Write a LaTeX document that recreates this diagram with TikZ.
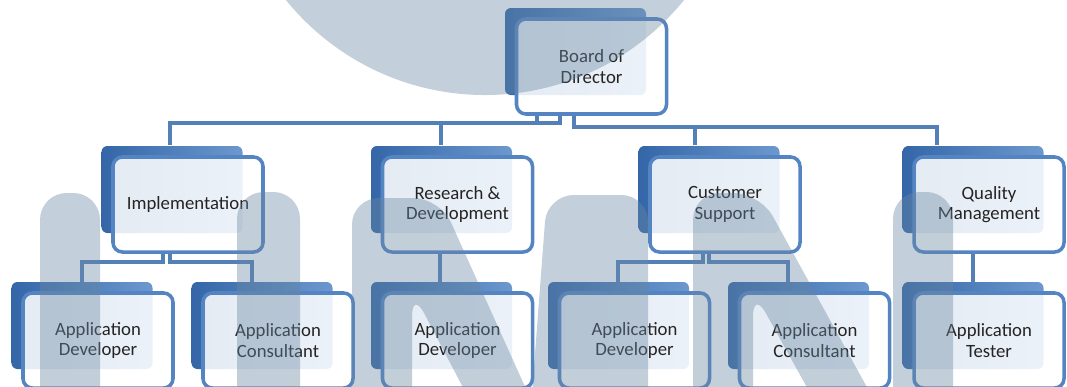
\documentclass[tikz,border=0pt]{standalone}
\usepackage{fontspec}
\setmainfont{Carlito}
\definecolor{boxline}{RGB}{84,132,194}
\definecolor{boxdark}{RGB}{52,102,168}
\definecolor{boxlight}{RGB}{108,152,206}
\definecolor{linkblue}{RGB}{84,128,184}
\definecolor{labeltext}{RGB}{36,36,36}
\definecolor{umnmark}{RGB}{105,136,162}
\tikzset{
    backbox/.style={rounded corners=5pt, inner sep=0pt, minimum width=4.23cm, minimum height=2.61cm,
        left color=boxdark, right color=boxlight},
    frontbox/.style={draw=boxline, line width=3pt, rounded corners=8pt, fill=white, fill opacity=0.87,
        text opacity=1, text=labeltext, inner sep=0pt, minimum width=4.5cm, minimum height=2.85cm,
        align=center, font=\fontsize{16}{17.5}\selectfont},
    link/.style={draw=linkblue, line width=3.5pt},
    umn/.style={fill=umnmark, fill opacity=0.4}
}
\newcommand{\orgnode}[4]{
    \node[backbox] (#1b) at (#2-16,#3-15) {};
    \node[frontbox] (#1) at (#2,#3) {#4};
}
\begin{document}
\begin{tikzpicture}[x=0.03cm,y=-0.03cm]
    \useasboundingbox (0,0) rectangle (1067,386);
    \clip (0,0) rectangle (1067,386);
    % connectors first, boxes on top
    \draw[link] (537,113) |- (170,123) -- (170,145);
    \draw[link] (560,113) |- (441,123) -- (441,145);
    \draw[link] (574,113) |- (695,127) -- (695,145);
    \draw[link] (574,113) |- (937,127) -- (937,145);
    \orgnode{bod}{591.5}{66.5}{Board of\\Director}
    \orgnode{impl}{188}{204.5}{Implementation}
    \orgnode{rnd}{457.5}{204.5}{Research \&\\Development}
    \orgnode{cs}{725}{204.5}{Customer\\Support}
    \orgnode{qm}{989}{204.5}{Quality\\Management}
    \draw[link] (impl.south -| 163,0) |- (82,262) -- (82,282);
    \draw[link] (impl.south -| 170,0) |- (252,262) -- (252,282);
    \draw[link] (rnd.south -| 440,0) -- (440,282);
    \draw[link] (cs.south -| 703,0) |- (618,262) -- (618,282);
    \draw[link] (cs.south -| 709,0) |- (788,262) -- (788,282);
    \draw[link] (qm.south -| 973,0) -- (973,282);
    \orgnode{devimpl}{98}{340.5}{Application\\Developer}
    \orgnode{consimpl}{278}{340.5}{Application\\Consultant}
    \orgnode{devrnd}{457.5}{340.5}{Application\\Developer}
    \orgnode{devcs}{634.5}{340.5}{Application\\Developer}
    \orgnode{conscs}{814.5}{340.5}{Application\\Consultant}
    \orgnode{tester}{989}{340.5}{Application\\Tester}
    % UMN watermark
    \fill[umn] (485,-161) circle[radius=7.68cm];
    \fill[umn, rounded corners=0.8cm] (40,420) -- (40,193) -- (100,193) -- (100,420) -- cycle;
    \fill[umn, rounded corners=0.8cm] (237,420) -- (237,192) -- (300,192) -- (300,420) -- cycle;
    \fill[umn, rounded corners=0.8cm] (352,420) -- (352,198) -- (440,198) -- (540,420) -- (480,420)
        -- (412,290) -- (412,420) -- cycle;
    \fill[umn, rounded corners=0.8cm] (530,420) -- (547,195) -- (648,195) -- (648,420) -- cycle;
    \fill[umn, rounded corners=0.8cm] (693,420) -- (693,193) -- (760,193) -- (885,420) -- (825,420)
        -- (753,290) -- (753,420) -- cycle;
    \fill[umn, rounded corners=0.8cm] (893,420) -- (893,192) -- (953,192) -- (953,420) -- cycle;
\end{tikzpicture}
\end{document}
